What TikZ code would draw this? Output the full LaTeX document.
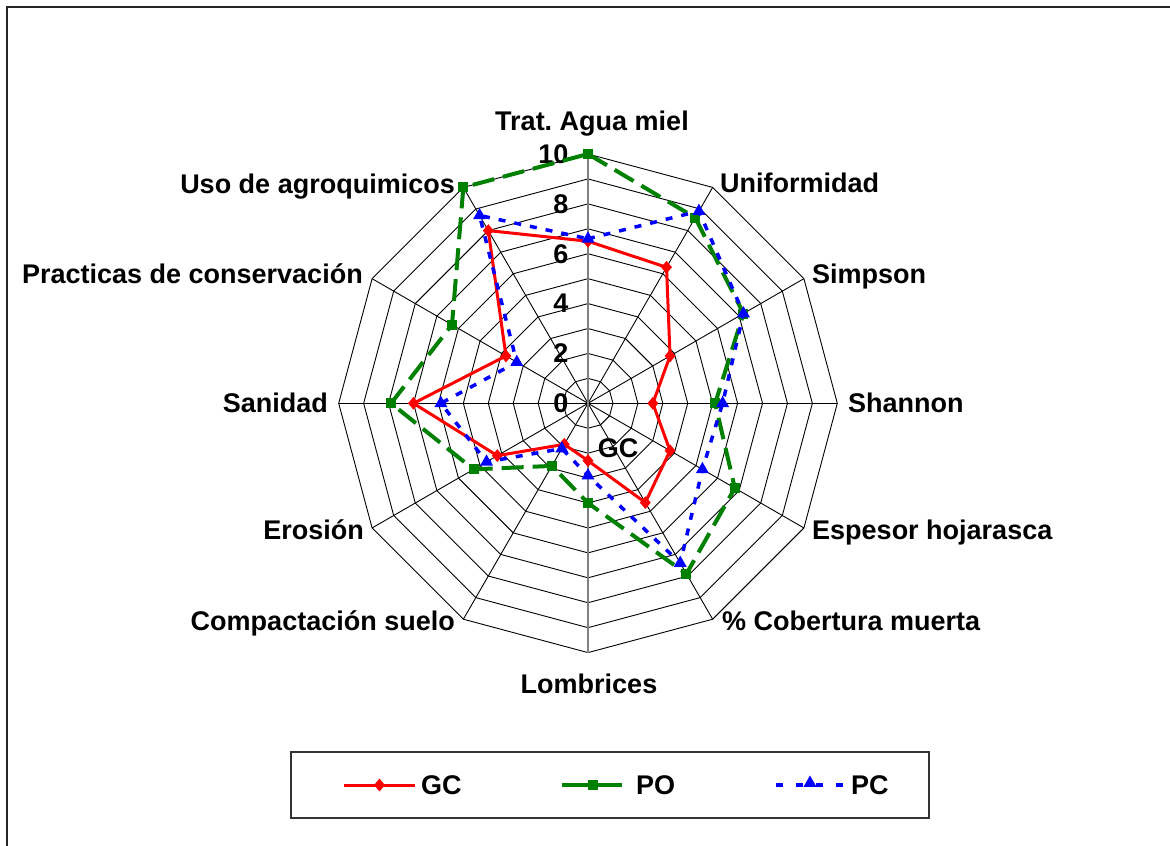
\documentclass[tikz,border=0pt]{standalone}
\usepackage{fontspec}
\setmainfont{Liberation Sans}
\usetikzlibrary{shapes.geometric}
\definecolor{gcred}{RGB}{255,0,0}
\definecolor{pogreen}{RGB}{0,128,0}
\definecolor{pcblue}{RGB}{0,0,255}
\frenchspacing
\begin{document}
\begin{tikzpicture}[x=1pt,y=-1pt,
  lbl/.style={font=\bfseries\fontsize{27}{32}\selectfont, inner sep=0pt, text=black},
  grid/.style={black, line width=0.9pt},
  gcline/.style={gcred, line width=3pt, line join=round},
  poline/.style={pogreen, line width=4pt, dash pattern=on 22pt off 9pt},
  pcline/.style={pcblue, line width=3.5pt, dash pattern=on 7pt off 9pt},
  gcmark/.style={diamond, fill=gcred, draw=none, inner sep=0pt, minimum width=11pt, minimum height=13pt},
  pomark/.style={rectangle, fill=pogreen, draw=none, inner sep=0pt, minimum size=10pt},
  pcmark/.style={regular polygon, regular polygon sides=3, fill=pcblue, draw=none, inner sep=0pt, minimum size=15pt}
]
\clip (0,0) rectangle (1170,846);
\fill[white] (0,0) rectangle (1170,846);
\draw[line width=2pt, black!85] (7,7) rectangle (1190,870);

\def\U{24.93}
\begin{scope}[shift={(588,403.3)}, y=1pt]
  % rings
  \foreach \r in {1,...,10}
    \draw[grid] (90:{\r*\U}) \foreach \k in {1,...,11} { -- ({90-30*\k}:{\r*\U}) } -- cycle;
  % spokes
  \coordinate (c0) at (0,0);
  \foreach \k in {0,...,11} \coordinate (ax\k) at ({90-30*\k}:{10*\U});
  \foreach \k in {1,2,3,4,5,7,8,9,10,11} \draw[grid] (c0) -- (ax\k);
  \draw[black!50, line width=1.6pt] (ax6) -- (ax0);
  % ticks
  \foreach \v in {0,2,4,6,8,10}
    \node[lbl, anchor=east] (tick\v) at (-19.5, {\v*\U}) {\v};
  % data
  \foreach \v [count=\k from 0] in {6.5,6.3,3.8,2.6,3.8,4.6,2.3,1.9,4.2,7.0,3.8,8.0}
    \coordinate (gc\k) at ({90-30*\k}:{\v*\U});
  \foreach \v [count=\k from 0] in {10,8.6,7.2,5.1,6.8,7.9,4.0,2.9,5.3,7.9,6.3,10}
    \coordinate (po\k) at ({90-30*\k}:{\v*\U});
  \foreach \v [count=\k from 0] in {6.6,8.9,7.2,5.4,5.3,7.4,2.9,2.1,4.7,5.9,3.3,8.7}
    \coordinate (pc\k) at ({90-30*\k}:{\v*\U});
  \draw[gcline] (gc0) -- (gc1) -- (gc2) -- (gc3) -- (gc4) -- (gc5) -- (gc6) -- (gc7) -- (gc8) -- (gc9) -- (gc10) -- (gc11) -- cycle;
  \foreach \k in {0,...,11} \node[gcmark] (gcm\k) at (gc\k) {};
  \draw[poline] (po0) -- (po1) -- (po2) -- (po3) -- (po4) -- (po5) -- (po6) -- (po7) -- (po8) -- (po9) -- (po10) -- (po11) -- cycle;
  \foreach \k in {0,...,11} \node[pomark] (pom\k) at (po\k) {};
  \draw[pcline] (pc0) -- (pc1) -- (pc2) -- (pc3) -- (pc4) -- (pc5) -- (pc6) -- (pc7) -- (pc8) -- (pc9) -- (pc10) -- (pc11) -- cycle;
  \foreach \k in {0,...,11} \node[pcmark] (pcm\k) at (pc\k) {};
\end{scope}

% axis labels
\node[lbl, anchor=base] (l0) at (592,130) {Trat. Agua miel};
\node[lbl, anchor=base west] (l1) at (720,192) {Uniformidad};
\node[lbl, anchor=base west] (l2) at (812,283) {Simpson};
\node[lbl, anchor=base west] (l3) at (848,412) {Shannon};
\node[lbl, anchor=base west] (l4) at (812,539) {Espesor hojarasca};
\node[lbl, anchor=base west] (l5) at (722,630) {\% Cobertura muerta};
\node[lbl, anchor=base] (l6) at (589,693) {Lombrices};
\node[lbl, anchor=base east] (l7) at (455,630) {Compactación suelo};
\node[lbl, anchor=base east] (l8) at (364,539) {Erosión};
\node[lbl, anchor=base east] (l9) at (328,412) {Sanidad};
\node[lbl, anchor=base east] (l10) at (363,283) {Practicas de conservación};
\node[lbl, anchor=base east] (l11) at (455,193) {Uso de agroquimicos};
\node[lbl, anchor=base] (dlgc) at (618,457) {GC};

% legend
\node[draw=black!80, line width=1.5pt, minimum width=638pt, minimum height=66pt, inner sep=0pt, anchor=north west] (legend) at (290,751) {};
\coordinate (gcA) at (344,785); \coordinate (gcB) at (415,785);
\draw[gcred, line width=3pt] (gcA) -- (gcB);
\node[gcmark] (lgcm) at (379.5,785) {};
\node[lbl, anchor=base west] (lgct) at (421,794.5) {GC};
\coordinate (poA) at (562,785); \coordinate (poB) at (622,785);
\draw[pogreen, line width=4pt] (poA) -- (poB);
\node[pomark] (lpom) at (593,785) {};
\node[lbl, anchor=base west] (lpot) at (636,794.5) {PO};
\coordinate (pcA) at (776,785); \coordinate (pcB) at (844,785);
\draw[pcblue, line width=3.5pt, dash pattern=on 6.5pt off 13.5pt] (pcA) -- (pcB);
\node[pcmark] (lpcm) at (810,783) {};
\node[lbl, anchor=base west] (lpct) at (851,794.5) {PC};
\end{tikzpicture}
\end{document}
